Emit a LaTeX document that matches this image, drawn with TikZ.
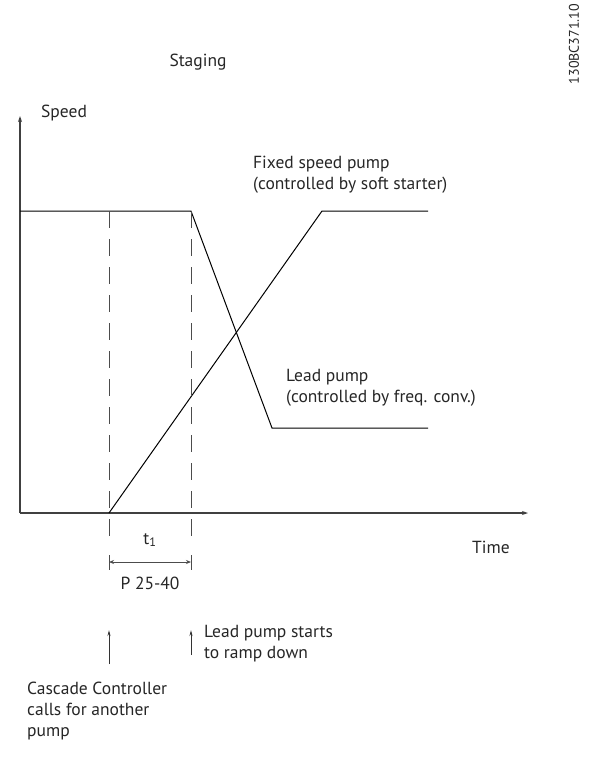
\documentclass[tikz,border=0pt]{standalone}
\usepackage{fontspec}
\setmainfont{PT Sans}
\usetikzlibrary{arrows.meta}
\begin{document}
\begin{tikzpicture}[x=1pt,y=-1pt,
  every node/.style={font=\fontsize{17.5}{21}\selectfont, text=black!85, inner sep=0pt},
  axis/.style={line width=1.3pt, draw=black!75, -{Stealth[length=6pt,width=4pt]}},
  curve/.style={line width=1pt, draw=black},
  guide/.style={line width=1pt, draw=black!70, dash pattern=on 17pt off 11pt},
  dim/.style={line width=1pt, draw=black!70, {Stealth[length=5pt,width=4pt]}-{Stealth[length=5pt,width=4pt]}},
  pointer/.style={line width=1pt, draw=black!80, -{Stealth[length=6pt,width=3pt]}},
  lbl/.style={anchor=west, align=left}]
\useasboundingbox (0,0) rectangle (602,764);

% axes
\coordinate (O) at (20,513);
\coordinate (ytop) at (20,116);
\coordinate (xend) at (528,513);
\draw[axis] (O) -- (ytop);
\draw[axis] (O) -- (xend);

% lead pump (speed drops)
\coordinate (l0) at (20,211);
\coordinate (l1) at (191,211);
\coordinate (l2) at (272,428);
\coordinate (l3) at (428,428);
\draw[curve] (l0) -- (l1) -- (l2) -- (l3);

% fixed speed pump (speed rises)
\coordinate (f1) at (109,513);
\coordinate (f2) at (322,211);
\coordinate (f3) at (428,211);
\draw[curve] (f1) -- (f2) -- (f3);

% dashed guides
\coordinate (g1t) at (109,211);
\coordinate (g1b) at (109,545);
\coordinate (g2t) at (191,211);
\coordinate (g2b) at (191,545);
\draw[guide] (g1t) -- (g1b);
\draw[guide] (g2t) -- (g2b);

% t1 dimension
\coordinate (d1) at (109,562);
\coordinate (d2) at (191,562);
\draw[line width=1pt, draw=black!70] (109,555) -- (109,570) (191,555) -- (191,570);
\draw[dim] (d1) -- (d2);

% event pointers
\coordinate (p1b) at (109,664);
\coordinate (p1t) at (109,630);
\coordinate (p2b) at (191,655);
\coordinate (p2t) at (191,630);
\draw[pointer] (p1b) -- (p1t);
\draw[pointer] (p2b) -- (p2t);

% labels
\node (title) at (198,62) {Staging};
\node[lbl] (speed) at (41,113) {Speed};
\node[lbl] (time) at (472,547) {Time};
\node[lbl] (fixed) at (253,175) {Fixed speed pump\\(controlled by soft starter)};
\node[lbl] (lead) at (286,388) {Lead pump\\(controlled by freq. conv.)};
\node (t1) at (150,540) {t\textsubscript{1}};
\node (par) at (150,583) {P 25-40};
\node[lbl] (rampdown) at (204,644) {Lead pump starts\\to ramp down};
\node[lbl] (cascade) at (27,711) {Cascade Controller\\calls for another\\pump};
\node[rotate=90, font=\fontsize{14}{16}\selectfont] (code) at (574,44) {130BC371.10};
\end{tikzpicture}
\end{document}
